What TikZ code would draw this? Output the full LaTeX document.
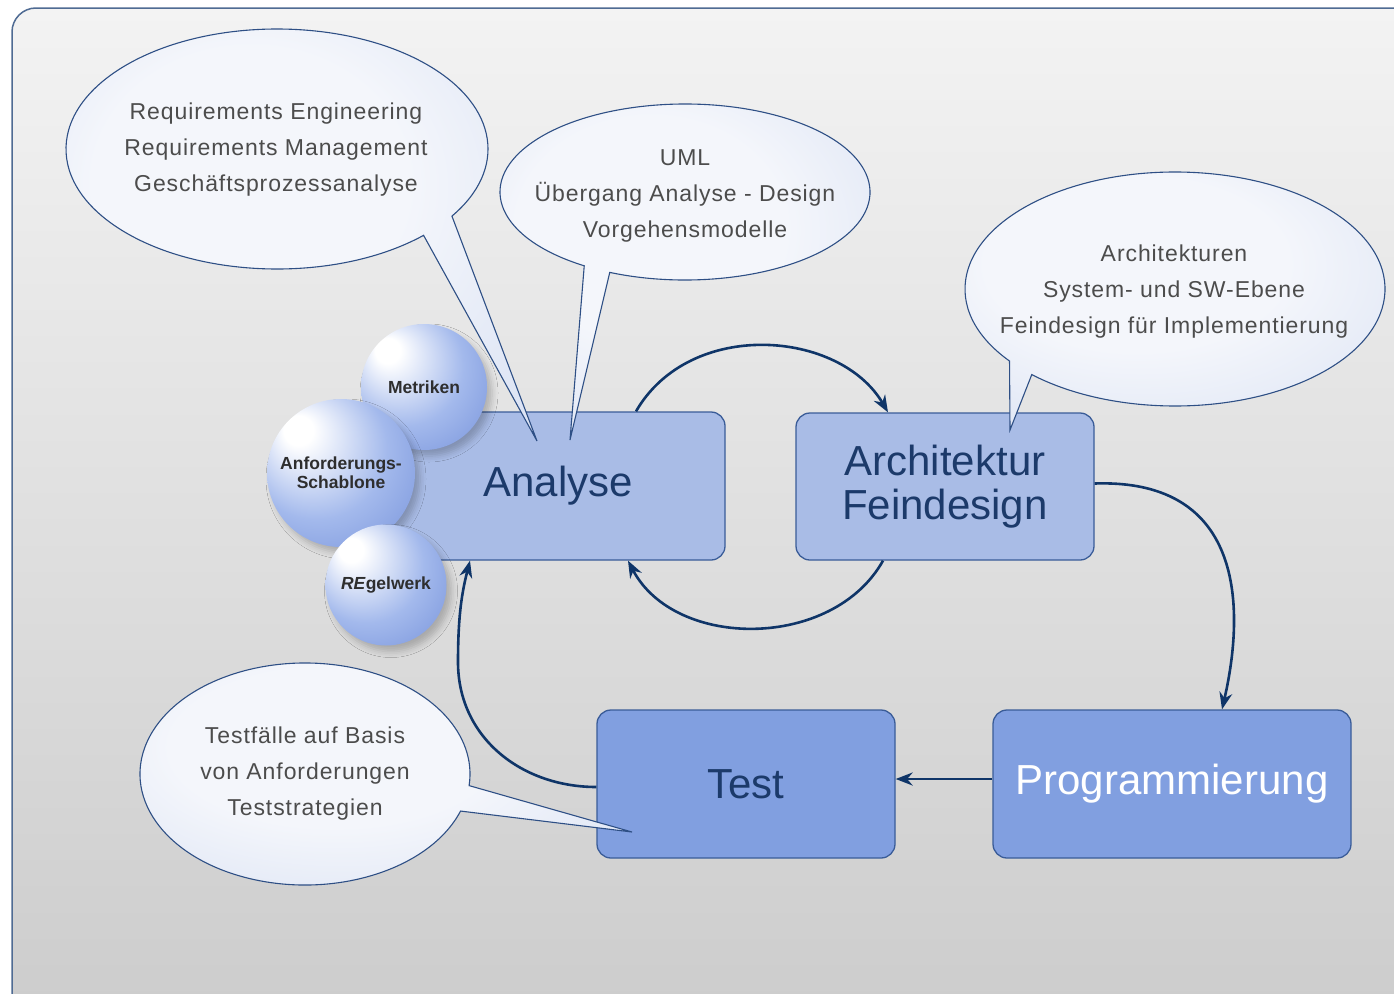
\documentclass[tikz,border=0pt]{standalone}
\usepackage{fontspec}
\setmainfont{Liberation Sans}
\usetikzlibrary{arrows.meta,shadows.blur}
\definecolor{navy}{HTML}{0F3568}
\definecolor{bgtop}{HTML}{F3F3F3}
\definecolor{bgbot}{HTML}{CCCCCC}
\definecolor{bgline}{HTML}{4F6B93}
\definecolor{boxline}{HTML}{3A5C98}
\definecolor{lightfill}{HTML}{A9BCE6}
\definecolor{darkfill}{HTML}{819FE0}
\definecolor{boxtext}{HTML}{1C3A6A}
\definecolor{sphmid}{HTML}{A3B9EC}
\definecolor{sphout}{HTML}{6F8CD8}
\definecolor{sphtext}{HTML}{2E2E2E}
\definecolor{bubin}{HTML}{F4F6FB}
\definecolor{bubout}{HTML}{C9D5EF}
\definecolor{bubline}{HTML}{2E4F85}
\definecolor{bubtext}{HTML}{4C4C4C}
\pgfdeclareradialshading{sphereshade}{\pgfpoint{-16bp}{16bp}}{color(0bp)=(white); color(5bp)=(white); color(24bp)=(sphmid); color(44bp)=(sphout); color(50bp)=(sphout)}
\pgfdeclareradialshading{bubshade}{\pgfpoint{-6bp}{8bp}}{color(0bp)=(bubin); color(16bp)=(bubin); color(50bp)=(bubout)}
\begin{document}
\begin{tikzpicture}[x=1pt,y=-1pt,
  box/.style={draw=boxline, line width=1.3pt, rounded corners=14pt, inner sep=0pt,
    font=\fontsize{42}{44}\selectfont, text=boxtext, align=center},
  lightbox/.style={box, fill=lightfill},
  darkbox/.style={box, fill=darkfill},
  sphere/.style={circle, shading=sphereshade, inner sep=0pt,
    font=\fontsize{17.5}{19}\selectfont\bfseries, text=sphtext, align=center,
    blur shadow={shadow xshift=5pt, shadow yshift=-6pt, shadow blur radius=6pt, shadow opacity=22}},
  bubble/.style={draw=bubline, line width=1.1pt, shading=bubshade},
  btext/.style={font=\fontsize{23}{36}\selectfont\addfontfeatures{LetterSpace=4}, text=bubtext, align=center},
  arr/.style={draw=navy, line width=2.6pt, -{Stealth[length=17pt,width=13pt]}}
]
\useasboundingbox (0,0) rectangle (1394,993);
\clip (0,0) rectangle (1394,993);
\fill[white] (0,0) rectangle (1394,993);
\draw[draw=bgline, line width=1.5pt, top color=bgtop, bottom color=bgbot, rounded corners=24pt]
  (12,8) rectangle (1430,1030);

% process boxes
\node[lightbox, minimum width=334pt, minimum height=148pt] (an) at (558,486) {Analyse};
\node[lightbox, minimum width=298pt, minimum height=147pt] (ar) at (945,486.5) {Architektur\\Feindesign};
\node[darkbox, minimum width=298pt, minimum height=148pt] (te) at (746,784) {Test};
\node[darkbox, minimum width=358pt, minimum height=148pt, text=white] (pr) at (1172,784) {Programmierung};

% connectors
\draw[arr] ([xshift=78pt]an.north) .. controls (690,318) and (840,330) .. ([xshift=-57pt]ar.north);
\draw[arr] ([xshift=-62pt]ar.south) .. controls (833,650) and (675,650) .. ([xshift=70pt]an.south);
\draw[arr] ([yshift=3pt]ar.east) .. controls (1262,478) and (1238,640) .. ([xshift=50pt]pr.north);
\draw[arr] ([yshift=5pt]pr.west) -- ([yshift=5pt]te.east);
\coordinate (lp) at (458,662);
\draw[arr] ([yshift=-3pt]te.west) .. controls (522,787) and (458,738) .. (lp)
  .. controls (458,615) and (462,592) .. ([xshift=-88pt]an.south);

% spheres
\node[sphere, minimum size=126pt] (me) at (424,387) {Metriken};
\node[sphere, minimum size=148pt] (as) at (341,473) {Anforderungs-\\Schablone};
\node[sphere, minimum size=121pt] (rw) at (386,585) {\textit{RE}gelwerk};

% speech bubbles
\coordinate (t1) at (537,441);
\coordinate (t2) at (570,440);
\coordinate (t3) at (1010,430);
\coordinate (t4) at (632,832);
\path[bubble] (277,149) ++(46:211 and 120) arc[start angle=46, end angle=394, x radius=211, y radius=120] -- (t1) -- cycle;
\path[bubble] (685,192) ++(123:185 and 88) arc[start angle=123, end angle=474, x radius=185, y radius=88] -- (t2) -- cycle;
\path[bubble] (1175,289) ++(142:210 and 117) arc[start angle=142, end angle=493, x radius=210, y radius=117] -- (t3) -- cycle;
\path[bubble] (305,774) ++(19.5:165 and 111) arc[start angle=19.5, end angle=366, x radius=165, y radius=111] -- (t4) -- cycle;

\node[btext] (b1) at (276,150) {Requirements Engineering\\Requirements Management\\Geschäftsprozessanalyse};
\node[btext] (b2) at (685,196) {UML\\Übergang Analyse - Design\\Vorgehensmodelle};
\node[btext] (b3) at (1174,292) {Architekturen\\System- und SW-Ebene\\Feindesign für Implementierung};
\node[btext] (b4) at (305,774) {Testfälle auf Basis\\von Anforderungen\\Teststrategien};
\end{tikzpicture}
\end{document}
